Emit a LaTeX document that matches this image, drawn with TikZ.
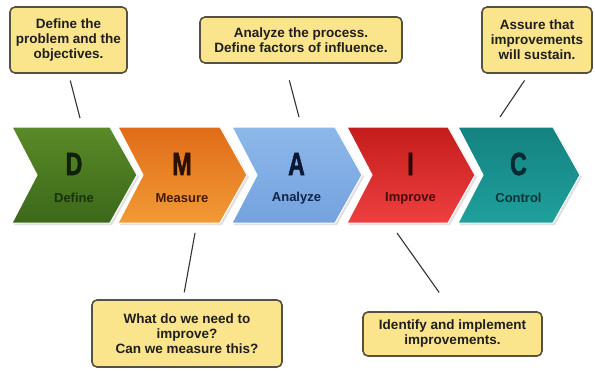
\documentclass[tikz,border=0pt]{standalone}
\usepackage{fontspec}
\setmainfont{Liberation Sans}
\newfontfamily\heavyfont[FakeBold=2]{Liberation Sans Bold}
\usetikzlibrary{positioning}

\definecolor{notefill}{HTML}{FAE48C}
\definecolor{noteline}{HTML}{55503F}
\definecolor{dtop}{HTML}{5A8A28}
\definecolor{dbot}{HTML}{3C681A}
\definecolor{mtop}{HTML}{E06C18}
\definecolor{mbot}{HTML}{F29A36}
\definecolor{atop}{HTML}{8DB8EA}
\definecolor{abot}{HTML}{74A2DE}
\definecolor{itop}{HTML}{C41C1C}
\definecolor{ibot}{HTML}{EE4040}
\definecolor{ctop}{HTML}{138280}
\definecolor{cbot}{HTML}{20A09D}
\definecolor{dlet}{HTML}{10200A}
\definecolor{dtxt}{HTML}{173409}
\definecolor{mlet}{HTML}{2A1000}
\definecolor{mtxt}{HTML}{421C04}
\definecolor{alet}{HTML}{0A1836}
\definecolor{atxt}{HTML}{12224A}
\definecolor{ilet}{HTML}{2A0000}
\definecolor{itxt}{HTML}{4E0A0A}
\definecolor{clet}{HTML}{082A34}
\definecolor{ctxt}{HTML}{0A3436}

\begin{document}
\begin{tikzpicture}[x=1pt,y=-1pt,
    note/.style={draw=noteline,line width=1.6pt,fill=notefill,rounded corners=5pt,
      align=center,text=black!88,inner sep=2pt,
      font=\bfseries\fontsize{13.5}{15}\selectfont},
    link/.style={draw=black!80,line width=1.1pt},
    letter/.style={font=\heavyfont\fontsize{32}{32}\selectfont},
    phase/.style={font=\bfseries\fontsize{13}{14}\selectfont}]
    \useasboundingbox (0,0) rectangle (595,370);

    % the five phases
    \foreach \n/\x/\w/\ca/\cb/\lc/\tc/\l/\t in {
        d/12/98/dtop/dbot/dlet/dtxt/D/Define,
        m/118/102/mtop/mbot/mlet/mtxt/M/Measure,
        a/232/103/atop/abot/alet/atxt/A/Analyze,
        i/347/101/itop/ibot/ilet/itxt/I/Improve,
        c/458/95/ctop/cbot/clet/ctxt/C/Control}
    {
        \fill[black!12] (\x+2,129) -- ++(\w,0) -- ++(27,48) -- ++(-27,48)
            -- ++(-\w,0) -- ++(25,-48) -- cycle;
        \shade[top color=\ca,bottom color=\cb,draw=white,line width=1pt]
            (\x,127) -- ++(\w,0) -- ++(27,48) -- ++(-27,48)
            -- ++(-\w,0) -- ++(25,-48) -- cycle;
        \node[letter,text=\lc] (\n) at (\x+\w/2+13,164) {\scalebox{0.72}[1]{\l}};
        \node[phase,text=\tc] (\n-lab) at (\x+\w/2+13,198) {\t};
    }

    % callouts
    \node[note,minimum width=117pt,minimum height=66pt] (n1) at (68.5,40)
        {Define the\\problem and the\\objectives.};
    \node[note,minimum width=202pt,minimum height=46pt] (n2) at (301,40)
        {Analyze the process.\\Define factors of influence.};
    \node[note,minimum width=110pt,minimum height=66pt] (n3) at (537,40)
        {Assure that\\improvements\\will sustain.};
    \node[note,minimum width=190pt,minimum height=67pt] (n4) at (187,333.5)
        {What do we need to\\improve?\\Can we measure this?};
    \node[note,minimum width=179pt,minimum height=44pt] (n5) at (452.5,334)
        {Identify and implement\\improvements.};

    \coordinate (d-up) at (80,118);
    \coordinate (a-up) at (299,117);
    \coordinate (c-up) at (500,117);
    \coordinate (m-down) at (195,233);
    \coordinate (i-down) at (397,233);

    \draw[link,shorten <=7pt] (n1.south) -- (d-up);
    \draw[link,shorten <=17pt] ([xshift=-16pt]n2.south) -- (a-up);
    \draw[link,shorten <=8pt] ([xshift=-8pt]n3.south) -- (c-up);
    \draw[link,shorten <=7pt] ([xshift=-4pt]n4.north) -- (m-down);
    \draw[link,shorten <=23pt] (n5.north) -- (i-down);
\end{tikzpicture}
\end{document}
